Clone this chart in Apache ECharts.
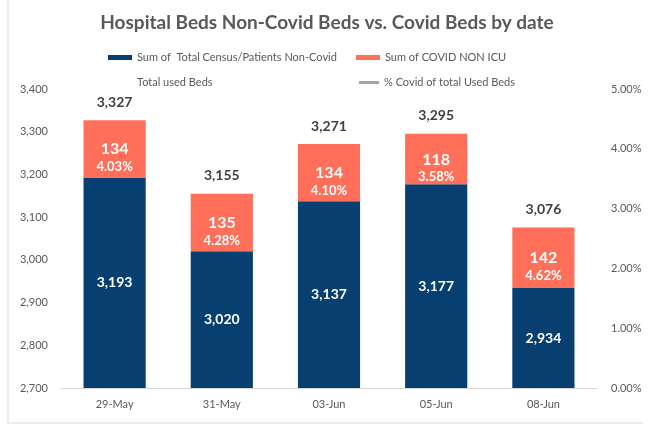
<!DOCTYPE html>
<html>
<head>
<meta charset="utf-8">
<script src="https://cdn.jsdelivr.net/npm/echarts@6/dist/echarts.min.js"></script>
<style>html,body{margin:0;padding:0;background:#fff}#c{width:654px;height:427px}</style>
</head>
<body>
<div id="c"></div>
<script>
const categories = ['29-May', '31-May', '03-Jun', '05-Jun', '08-Jun'];
const nonCovid = [3193, 3020, 3137, 3177, 2934];
const covidNonIcu = [134, 135, 134, 118, 142];
const totalUsed = [3327, 3155, 3271, 3295, 3076];
const pctCovid = [0.0403, 0.0428, 0.0410, 0.0358, 0.0462];
const leftTicks = { min: 2700, max: 3400, interval: 100 };
const rightTicks = { min: 0, max: 0.05, interval: 0.01 };

const FONT = 'Lato, "Open Sans", sans-serif';
const fmt = v => Number(v).toLocaleString('en-US');
const names = ['Sum of  Total Census/Patients Non-Covid', 'Sum of COVID NON ICU', 'Total used Beds', '% Covid of total Used Beds'];
const legendText = { color: '#595959', fontSize: 11, fontFamily: FONT };

const chart = echarts.init(document.getElementById('c'));
chart.setOption({
  animation: false,
  backgroundColor: '#fff',
  title: {
    text: 'Hospital Beds Non-Covid Beds vs. Covid Beds by date',
    left: 'center', top: 8,
    textStyle: { color: '#595959', fontSize: 19, fontWeight: 'bold', fontFamily: FONT }
  },
  legend: [
    { left: 103, top: 47, itemWidth: 24, itemHeight: 5, selectedMode: false, textStyle: legendText,
      data: [{ name: names[0], icon: 'rect' }] },
    { left: 351, top: 47, itemWidth: 24, itemHeight: 5, selectedMode: false, textStyle: legendText,
      data: [{ name: names[1], icon: 'rect' }] },
    { left: 103, top: 72, itemWidth: 24, itemHeight: 5, selectedMode: false, textStyle: legendText,
      data: [{ name: names[2], icon: 'rect', itemStyle: { color: 'rgba(0,0,0,0)' } }] },
    { left: 354, top: 72, itemWidth: 20, itemHeight: 3, selectedMode: false, textStyle: legendText,
      data: [{ name: names[3], icon: 'rect', itemStyle: { color: '#A5A5A5', opacity: 1 } }] }
  ],
  grid: { left: 61, right: 57, top: 89, bottom: 39 },
  xAxis: {
    type: 'category', data: categories, boundaryGap: true,
    axisLine: { lineStyle: { color: '#D9D9D9', width: 1 } },
    axisTick: { show: false },
    axisLabel: { color: '#595959', fontSize: 11, fontFamily: FONT, margin: 11 }
  },
  yAxis: [
    { type: 'value', min: leftTicks.min, max: leftTicks.max, interval: leftTicks.interval,
      splitLine: { show: false }, axisLine: { show: false }, axisTick: { show: false },
      axisLabel: { color: '#595959', fontSize: 11, fontFamily: FONT, margin: 13, formatter: v => fmt(v) } },
    { type: 'value', min: rightTicks.min, max: rightTicks.max, interval: rightTicks.interval,
      splitLine: { show: false }, axisLine: { show: false }, axisTick: { show: false },
      axisLabel: { color: '#595959', fontSize: 11, fontFamily: FONT, margin: 14, formatter: v => (v * 100).toFixed(2) + '%' } }
  ],
  series: [
    { name: names[0], type: 'bar', stack: 'beds', data: nonCovid, barWidth: '58%',
      itemStyle: { color: '#063F70' },
      label: { show: true, position: 'inside', color: '#fff', fontWeight: 'bold', fontSize: 14, fontFamily: FONT,
        formatter: p => fmt(p.value) } },
    { name: names[1], type: 'bar', stack: 'beds', data: covidNonIcu,
      itemStyle: { color: '#FF6F5A' },
      label: { show: true, position: 'inside', offset: [0, 9],
        formatter: p => '{v|' + p.value + '}\n{p|' + (pctCovid[p.dataIndex] * 100).toFixed(2) + '%}',
        rich: {
          v: { color: '#fff', fontWeight: 'bold', fontSize: 16, fontFamily: FONT, lineHeight: 18, align: 'center' },
          p: { color: '#fff', fontWeight: 'bold', fontSize: 13, fontFamily: FONT, lineHeight: 17, align: 'center' }
        } } },
    { name: names[2], type: 'line', data: totalUsed, symbol: 'circle', symbolSize: 0, showSymbol: true, yAxisIndex: 0,
      lineStyle: { opacity: 0 }, itemStyle: { color: '#404040' }, z: 5,
      label: { show: true, position: 'top', distance: 11, color: '#404040', fontWeight: 'bold', fontSize: 14, fontFamily: FONT,
        formatter: p => fmt(p.value) } },
    { name: names[3], type: 'line', data: pctCovid, symbol: 'none', yAxisIndex: 1,
      lineStyle: { opacity: 0 }, itemStyle: { color: '#A5A5A5' } }
  ],
  graphic: [
    { type: 'line', shape: { x1: 8, y1: 0, x2: 8, y2: 423 }, style: { stroke: '#D9D9D9', lineWidth: 1 } },
    { type: 'line', shape: { x1: 8, y1: 423, x2: 643, y2: 423 }, style: { stroke: '#D9D9D9', lineWidth: 1 } }
  ]
});
</script>
</body>
</html>
